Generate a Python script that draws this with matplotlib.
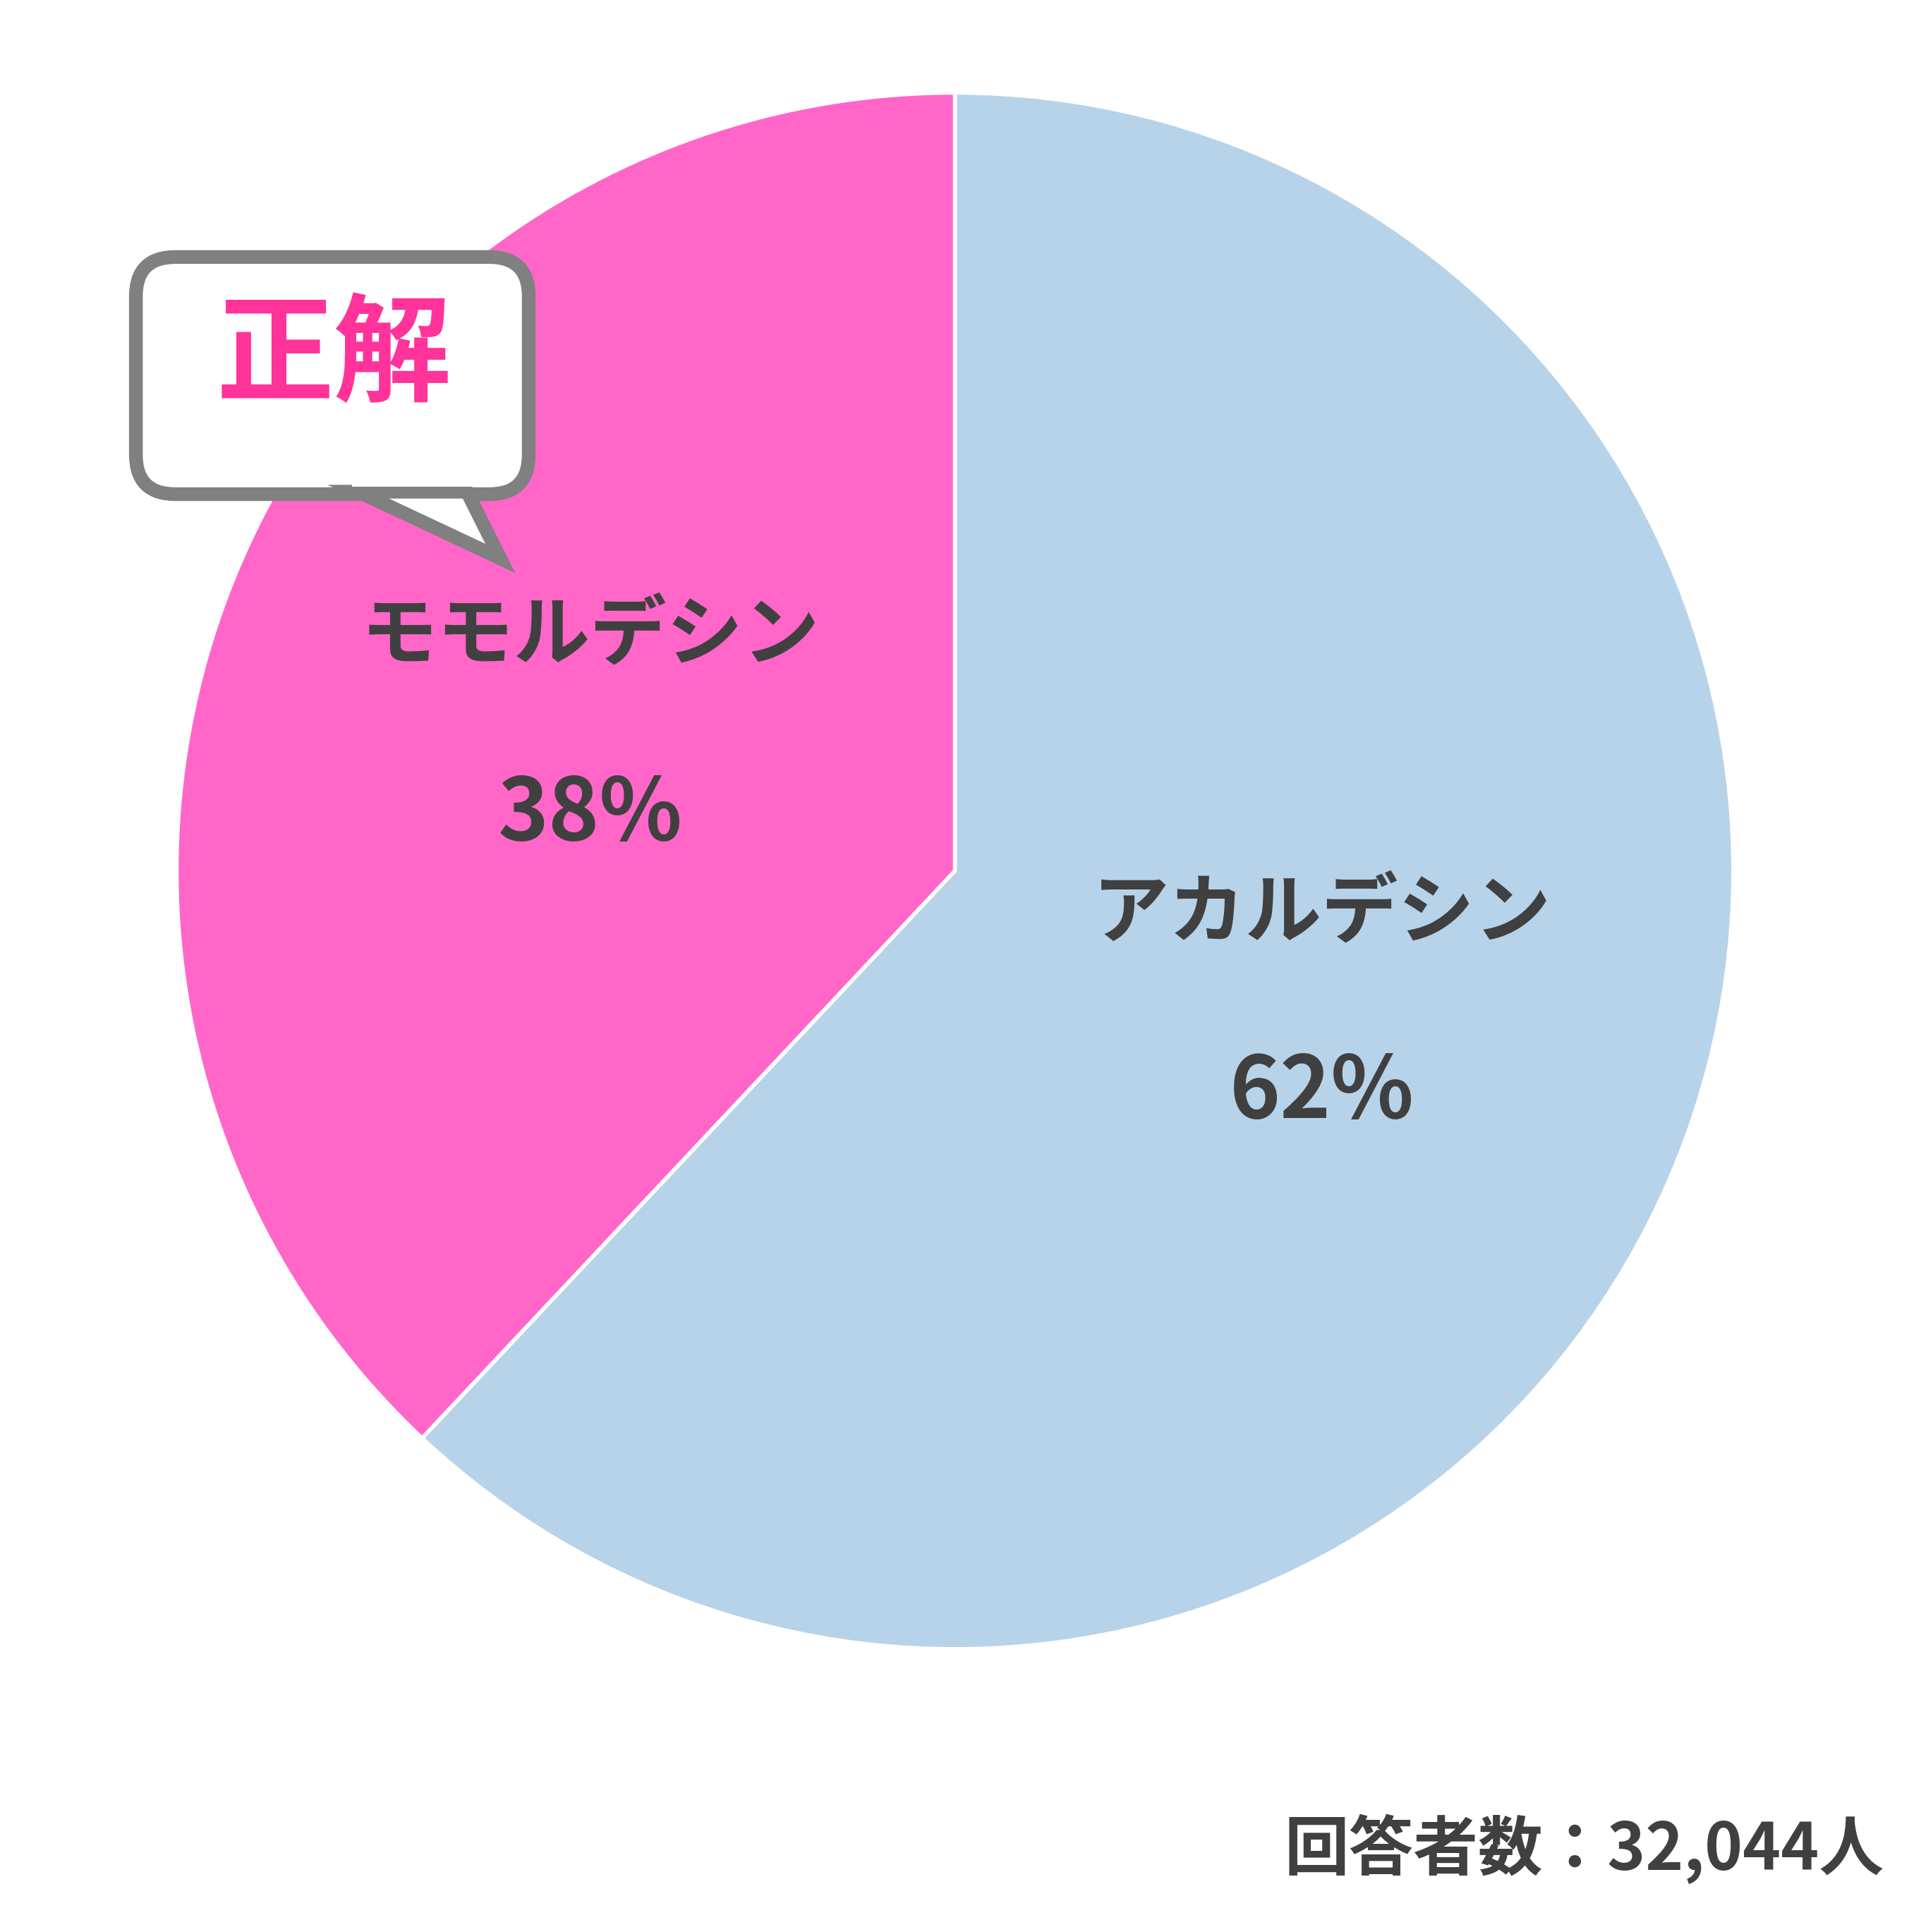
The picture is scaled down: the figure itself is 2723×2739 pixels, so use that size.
import matplotlib
matplotlib.use("Agg")
import matplotlib.pyplot as plt
from matplotlib.patches import FancyBboxPatch, Polygon

plt.rcParams['font.family'] = ['Noto Sans CJK JP', 'DejaVu Sans']

labels = ["モモルデシン", "アカルデシン"]
values = [38, 62]
pcts = ["38%", "62%"]
colors = ["#ff66c8", "#b7d3ea"]
total_text = "回答者数：32,044人"
badge_text = "正解"

W, H = 1555, 1564
fig = plt.figure(figsize=(27.23, 27.39), dpi=100)
ax = fig.add_axes([0, 0, 1, 1])
ax.set_xlim(0, W); ax.set_ylim(0, H); ax.set_aspect('equal'); ax.axis('off')

ax.pie(values, colors=colors, startangle=90, counterclock=True, center=(773, 859),
       radius=630, wedgeprops=dict(edgecolor='white', linewidth=4), frame=True)
ax.set_xlim(0, W); ax.set_ylim(0, H); ax.axis('off')

tc = "#404040"
pos = [((478, 1049), (478, 904)), ((1070, 824), (1070, 679))]
for lab, p, (lp, pp) in zip(labels, pcts, pos):
    ax.text(*lp, lab, ha='center', va='center', fontsize=78, fontweight='bold', color=tc)
    ax.text(*pp, p, ha='center', va='center', fontsize=88, fontweight='bold', color=tc)

ax.text(1525, 67, total_text, ha='right', va='center', fontsize=66, fontweight='bold', color=tc)

# callout
gray = "#808080"
box = FancyBboxPatch((110, 1164), 318, 192, boxstyle="round,pad=0,rounding_size=32",
                     facecolor='white', edgecolor=gray, linewidth=14, zorder=5)
ax.add_patch(box)
tail = Polygon([(290, 1166), (405, 1112), (378, 1166)], closed=True,
               facecolor='white', edgecolor=gray, linewidth=14, joinstyle='miter', zorder=6)
ax.add_patch(tail)
ax.add_patch(Polygon([(285, 1170), (384, 1170), (384, 1180), (285, 1180)], closed=True,
                     facecolor='white', edgecolor='none', zorder=7))
ax.text(270, 1274, badge_text, ha='center', va='center', fontsize=120, fontweight='bold',
        color="#ff3399", zorder=8)

fig.savefig("out.png", dpi=100, facecolor='white')
